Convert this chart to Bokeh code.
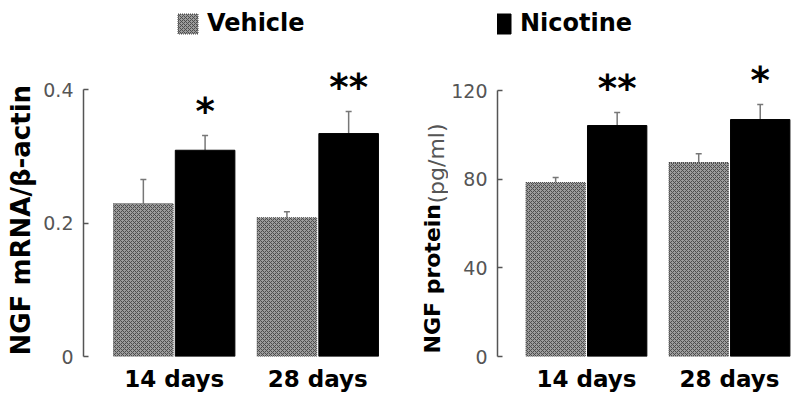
import math
from bokeh.plotting import figure
from bokeh.layouts import row
from bokeh.models import (Range1d, FixedTicker, Whisker, TeeHead, ColumnDataSource,
                          Legend, LegendItem)
from bokeh.core.properties import value
from bokeh.embed import file_html
from bokeh.resources import INLINE

# ---------------- data ----------------
days = ["14 days", "28 days"]
groups = ["Vehicle", "Nicotine"]

mrna_vehicle = [0.229, 0.208]
mrna_vehicle_err = [0.036, 0.009]
mrna_nicotine = [0.309, 0.334]
mrna_nicotine_err = [0.022, 0.033]
mrna_sig = ["*", "**"]
mrna_ticks = [0, 0.2, 0.4]
mrna_tick_labels = ["0", "0.2", "0.4"]
mrna_title = ["NGF mRNA/\u03b2-actin"]

prot_vehicle = [78.5, 87.5]
prot_vehicle_err = [2.2, 4.0]
prot_nicotine = [104.2, 106.9]
prot_nicotine_err = [5.9, 6.8]
prot_sig = ["**", "*"]
prot_ticks = [0, 40, 80, 120]
prot_tick_labels = ["0", "40", "80", "120"]
prot_title = ["NGF protein", "(pg/ml)"]

FONT = "DejaVu Sans"
AX_COLOR = "#555555"
TICK_COLOR = "#555555"

# layout (pixels from the top-left of the picture)
FIG_H = 403
Y0_PIX = 356            # pixel row of value 0 (frame bottom); frame top at 0
FRAME_H = Y0_PIX
BORDER_BOTTOM = FIG_H - FRAME_H
PX_PER_CAT = 144.0
OFFSET = 0.215
BAR_W = 0.415


def make_panel(vehicle, vehicle_err, nicotine, nicotine_err, sig, ticks, tick_labels,
               ymax, ymax_pix, page_left, frame_left, frame_right, first_center,
               legend_group, legend_x):
    width = int(round(frame_right - page_left))
    border_left = int(round(frame_left - page_left))
    y_end = ymax * FRAME_H / (Y0_PIX - ymax_pix)
    x_start = 1 - (first_center - frame_left) / PX_PER_CAT
    x_end = x_start + (frame_right - frame_left) / PX_PER_CAT

    p = figure(width=width, height=FIG_H, x_range=Range1d(x_start, x_end),
               y_range=Range1d(0, y_end), output_backend="svg", toolbar_location=None,
               title=None, min_border_left=border_left, min_border_right=0,
               min_border_top=0, min_border_bottom=BORDER_BOTTOM)
    p.outline_line_color = None
    p.xgrid.visible = False
    p.ygrid.visible = False
    p.background_fill_color = "white"
    p.border_fill_color = "white"

    pos = [i + 1 for i in range(len(days))]
    xv = [x - OFFSET for x in pos]
    xn = [x + OFFSET for x in pos]

    rv = p.vbar(x=xv, top=vehicle, bottom=0, width=BAR_W, fill_color="#9c9c9c",
                hatch_pattern="diagonal_cross", hatch_color="#4c4c4c", hatch_scale=4,
                hatch_weight=1, line_color="#4a4a4a", line_width=1, line_dash="1 1")
    rn = p.vbar(x=xn, top=nicotine, bottom=0, width=BAR_W, fill_color="black",
                line_color="black", line_width=1)

    src_v = ColumnDataSource(dict(x=xv, lo=vehicle,
                                  hi=[a + b for a, b in zip(vehicle, vehicle_err)]))
    src_n = ColumnDataSource(dict(x=xn, lo=nicotine,
                                  hi=[a + b for a, b in zip(nicotine, nicotine_err)],
                                  s=sig))
    for src in (src_v, src_n):
        w = Whisker(base="x", lower="lo", upper="hi", source=src, line_color="#777777",
                    line_width=1.5, lower_head=None,
                    upper_head=TeeHead(size=6, line_color="#777777", line_width=1.5))
        w.level = "underlay"
        p.add_layout(w)

    p.text(x="x", y="hi", text="s", source=src_n, text_align="center",
           text_baseline="alphabetic", y_offset=-24, text_font=value(FONT),
           text_font_style="bold", text_font_size="37px", text_color="black")

    # axes
    p.yaxis.ticker = FixedTicker(ticks=ticks)
    p.yaxis.major_label_overrides = {t: l for t, l in zip(ticks, tick_labels)}
    p.yaxis.bounds = (0, ymax)
    p.yaxis.axis_line_color = AX_COLOR
    p.yaxis.axis_line_width = 1.5
    p.yaxis.major_tick_line_color = AX_COLOR
    p.yaxis.major_tick_line_width = 1.5
    p.yaxis.major_tick_in = 5
    p.yaxis.major_tick_out = 0
    p.yaxis.minor_tick_line_color = None
    p.yaxis.major_label_text_font = FONT
    p.yaxis.major_label_text_font_size = "19px"
    p.yaxis.major_label_text_color = TICK_COLOR
    p.yaxis.major_label_standoff = 10

    p.xaxis.ticker = FixedTicker(ticks=pos)
    p.xaxis.major_label_overrides = {x: d for x, d in zip(pos, days)}
    p.xaxis.axis_line_color = None
    p.xaxis.major_tick_line_color = None
    p.xaxis.minor_tick_line_color = None
    p.xaxis.major_label_text_font = FONT
    p.xaxis.major_label_text_font_style = "bold"
    p.xaxis.major_label_text_font_size = "23px"
    p.xaxis.major_label_text_color = "black"
    p.xaxis.major_label_standoff = 3

    rend = rv if legend_group == groups[0] else rn
    leg = Legend(items=[LegendItem(label=legend_group, renderers=[rend])],
                 location=(legend_x, FRAME_H - 37), padding=0, margin=0, spacing=0,
                 glyph_width=25, glyph_height=25, label_standoff=7,
                 label_text_font=FONT, label_text_font_style="bold",
                 label_text_font_size="24px", label_text_color="black",
                 border_line_color=None, background_fill_alpha=0)
    p.add_layout(leg, "center")
    return p


def title_strip(page_left, page_right, texts, xs, ys, sizes, styles, colors):
    """Narrow figure holding rotated y-axis titles; coordinates in picture pixels.
    Its frame is aligned with the panels' frames (rows 0..FRAME_H)."""
    w = page_right - page_left
    t = figure(width=w, height=FIG_H, x_range=Range1d(page_left, page_right),
               y_range=Range1d(FRAME_H, 0), output_backend="svg", toolbar_location=None,
               title=None, min_border=0, min_border_bottom=BORDER_BOTTOM,
               x_axis_location=None, y_axis_location=None)
    t.outline_line_color = None
    t.xgrid.visible = False
    t.ygrid.visible = False
    for txt, x, y, s, st, c in zip(texts, xs, ys, sizes, styles, colors):
        t.text(x=[x], y=[y], text=[txt], angle=math.pi / 2, text_align="left",
               text_baseline="middle", text_font=value(FONT), text_font_size=s,
               text_font_style=st, text_color=c)
    return t


t1 = title_strip(0, 40, mrna_title, [20], [355], ["26px"], ["bold"], ["black"])
p1 = make_panel(mrna_vehicle, mrna_vehicle_err, mrna_nicotine, mrna_nicotine_err, mrna_sig,
                mrna_ticks, mrna_tick_labels, 0.4, 89, 40, 82, 410, 173, groups[0], 92)
t2 = title_strip(410, 448, prot_title, [432, 436], [353, 203], ["22px", "22px"],
                 ["bold", "normal"], ["black", "#555555"])
p2 = make_panel(prot_vehicle, prot_vehicle_err, prot_nicotine, prot_nicotine_err, prot_sig,
                prot_ticks, prot_tick_labels, 120, 90, 448, 495, 800, 584.5, groups[1], -9)

layout = row(t1, p1, t2, p2)
open("out.html", "w").write(file_html(layout, INLINE))
